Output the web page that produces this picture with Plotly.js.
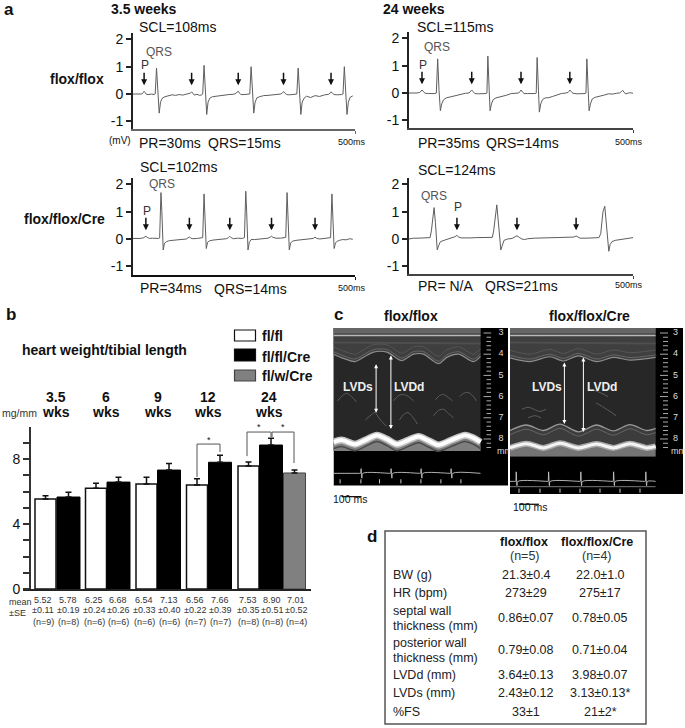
<!DOCTYPE html>
<html><head><meta charset="utf-8">
<script src="https://cdn.plot.ly/plotly-3.0.1.min.js"></script>
<style>html,body{margin:0;padding:0;background:#fff}#c{width:685px;height:728px}</style>
</head><body><div id="c"></div>
<script>
// ---------- panel a: ECG traces, [ms, mV] ----------
const ecg1=[[0,0],[8,-.01],[15,0],[20,0],[23,.05],[25,.1],[27,.06],[30,-.01],[36,-.02],[42,0],[48,-.02],[50,0],[53,.95],[56,.1],[59,-.7],[62,-.3],[66,-.15],[72,-.1],[80,-.06],[88,-.03],[96,-.05],[104,-.02],[112,-.04],[120,-.01],[126,0],[129,.03],[132,.08],[135,.02],[138,-.04],[144,-.01],[150,-.05],[155,-.03],[157,0],[160,1.05],[163,.1],[166,-.75],[169,-.3],[173,-.15],[179,-.1],[186,-.08],[196,-.05],[206,-.04],[216,-.02],[226,-.01],[232,.02],[235,.08],[237,.1],[240,.03],[243,-.02],[250,-.02],[257,-.01],[263,0],[266,1],[269,.1],[272,-.7],[275,-.3],[279,-.14],[285,-.1],[294,-.06],[304,-.05],[314,-.04],[324,-.02],[333,0],[337,.05],[339,.09],[342,.03],[346,-.02],[353,-.03],[361,-.02],[367,-.02],[369,0],[372,.95],[375,.1],[378,-.75],[381,-.3],[385,-.16],[391,-.08],[400,-.13],[410,-.06],[420,-.09],[432,-.03],[441,-.01],[444,.04],[446,.08],[449,.03],[453,-.02],[460,-.03],[467,-.03],[470,-.02],[473,0],[476,1],[479,.1],[482,-.75],[485,-.3],[489,-.12],[495,-.07]];
const ecg2=[[0,0],[10,-.01],[18,0],[24,.02],[27,.07],[29,.11],[32,.05],[36,-.01],[44,-.02],[52,-.03],[58,-.02],[61,0],[64,1.25],[67,.1],[70,-.65],[73,-.4],[77,-.25],[83,-.18],[90,-.15],[98,-.12],[106,-.07],[116,-.03],[126,-.01],[134,0],[137,.06],[140,.11],[143,.05],[147,-.02],[155,-.03],[165,-.03],[172,-.02],[174,0],[176,1.35],[179,.1],[181,-.65],[184,-.4],[188,-.24],[194,-.18],[202,-.15],[210,-.12],[218,-.08],[228,-.02],[238,0],[245,0],[248,.06],[250,.11],[253,.04],[257,-.02],[265,-.02],[275,-.03],[283,-.02],[284,0],[286,1.3],[289,.1],[291,-.7],[294,-.4],[298,-.24],[304,-.18],[312,-.17],[320,-.13],[330,-.08],[340,-.02],[350,0],[355,.02],[357,.06],[359,.11],[362,.05],[366,-.01],[375,-.03],[385,-.03],[393,-.02],[395,0],[397,1.25],[400,.1],[402,-.65],[405,-.4],[409,-.22],[415,-.16],[425,-.13],[435,-.08],[445,-.03],[455,-.04],[463,-.01],[470,0],[474,.05],[477,.1],[480,.02],[484,-.03],[490,0],[494,.01],[500,-.01]];
const ecg3=[[0,.02],[8,.01],[16,.02],[23,.04],[27,.08],[29,.1],[32,.06],[37,.02],[44,.03],[52,.01],[58,.02],[60,.04],[63,1.7],[65,1],[68,-.4],[71,-.15],[75,-.1],[82,-.06],[92,-.04],[102,-.02],[112,-.02],[120,0],[124,.04],[127,.08],[130,.03],[135,.01],[145,.02],[153,.03],[157,.05],[160,1.65],[162,1],[165,-.35],[168,-.12],[172,-.07],[180,-.04],[190,-.03],[200,-.01],[210,.01],[215,.05],[218,.1],[221,.05],[226,.01],[236,.03],[246,.02],[251,.05],[254,1.75],[256,1],[259,-.4],[262,-.12],[266,-.02],[274,-.02],[284,0],[294,.01],[304,.03],[309,.07],[312,.1],[315,.06],[322,.03],[332,.03],[340,.05],[344,.06],[347,1.7],[349,1],[352,-.4],[355,-.15],[359,-.08],[367,-.05],[377,-.03],[387,-.02],[397,0],[406,.02],[410,.07],[413,.03],[420,0],[432,.02],[441,.02],[445,.05],[448,1.65],[450,1],[453,-.35],[456,-.15],[460,-.08],[465,-.05],[472,-.02],[480,-.03],[488,.01],[495,-.01]];
const ecg4=[[0,0],[10,.03],[20,.03],[30,.04],[40,.03],[47,.05],[50,.3],[56,1.15],[59,.6],[62,-.2],[63,-.4],[66,-.25],[70,-.1],[78,-.05],[88,0],[96,.04],[102,.08],[107,.13],[111,.07],[116,.04],[126,.03],[138,.04],[150,.05],[165,.05],[180,.06],[186,.06],[189,.3],[193,1],[196,1.25],[199,.7],[203,-.2],[205,-.4],[208,-.25],[212,-.05],[220,0],[230,.02],[236,.07],[241,.12],[246,.06],[252,0],[258,-.02],[265,.01],[280,.03],[300,.04],[320,.05],[340,.05],[360,.06],[368,.07],[373,.11],[377,.06],[382,.03],[395,.03],[410,.04],[424,.05],[428,.2],[433,1],[437,1.2],[440,.7],[444,-.2],[446,-.45],[449,-.2],[453,-.1],[460,-.05],[470,-.03],[480,0],[490,.02],[500,.05]];
const pWave1=[25,132,237,339,446], pWave2=[29,140,250,359], pWave3=[29,127,218,312,410], pWave4=[107,241,373];

// ---------- panel b: heart weight / tibial length ----------
const flX=[45.5,96,146.5,197,248.5], flVal=[5.54,6.2,6.46,6.4,7.57], flErr=[.2,.31,.41,.39,.25];
const creX=[68.5,118.5,169,220,271], creVal=[5.66,6.58,7.32,7.8,8.86], creErr=[.29,.29,.41,.43,.41];
const wX=[294.5], wVal=[7.14], wErr=[.18];
const ageX=[56,106,158,208,269], ageLabels=['3.5','6','9','12','24'];
const statX=[43,68,94,118,144,169,195,220,248,272,296];
const statMean=['5.52','5.78','6.25','6.68','6.54','7.13','6.56','7.66','7.53','8.90','7.01'];
const statSE=['±0.11','±0.19','±0.24','±0.26','±0.33','±0.40','±0.22','±0.39','±0.35','±0.51','±0.52'];
const statN=['(n=9)','(n=8)','(n=6)','(n=6)','(n=6)','(n=6)','(n=7)','(n=7)','(n=8)','(n=8)','(n=4)'];

// ---------- panel c: M-mode outlines, ms / mm ----------
const lAntX=[0,50,108,158,200,267,342,400,450,525,567,625,700,735];
const lAntY=[4,4.2,4.35,4.1,3.9,3.9,4.3,4,4,4.45,4.15,4,4.35,4.1];
const lPostX=[0,40,108,160,217,265,317,375,425,475,525,590,658,700,735];
const lPostY=[8.05,7.95,8.15,7.95,7.72,7.9,8.15,7.95,7.78,7.98,8.18,7.95,7.72,7.85,8.05];
const lValveX=[20,45,66,90,115,null,300,325,350,375,400,null,510,530,550,575,595,null,630,650,672,695,715,null,160,190,208,230,265,null,330,350,372,395,420,null,500,525,550,575,600];
const lValveY=[6.2,5.95,5.85,6,6.25,null,6.2,5.95,5.9,6,6.2,null,6.15,5.95,5.9,6.05,6.2,null,6,5.85,5.8,5.95,6.2,null,7.1,6.85,6.75,7.05,7.4,null,7.1,6.85,6.75,6.95,7.3,null,6.9,6.65,6.6,6.8,7];
const lStripX=[0,130,135,138,142,146,280,285,288,292,296,430,435,438,442,446,580,585,588,592,596,735];
const lStripY=[9.62,9.62,9.62,9.4,9.85,9.62,9.62,9.62,9.4,9.85,9.62,9.62,9.62,9.4,9.85,9.62,9.62,9.62,9.4,9.85,9.62,9.62];
const lTicks=[33,137,230,337,437,537,637];
const rAntX=[0,100,200,267,342,433,517,600,728];
const rAntY=[4.17,4.35,4.12,4.32,4.08,4.35,4.15,4.28,4.15];
const rPostX=[0,83,167,250,342,433,517,600,683,728];
const rPostY=[7.6,7.34,7.6,7.3,7.66,7.34,7.62,7.32,7.6,7.5];
const rBandY=[8.42,8.22,8.42,8.2,8.42,8.24,8.42,8.22,8.42,8.35];
const rValveX=[60,90,120,150,180,null,430,450,475,500,530,null,90,125,155,null,420,460,490];
const rValveY=[6.6,6.5,6.6,6.7,6.6,null,6.3,6.4,6.55,6.7,6.9,null,7,6.9,7,null,5.7,5.85,6];
const rStripX=[0,24,28,31,35,39,186,190,193,197,201,347,351,354,358,362,511,515,518,522,526,672,676,679,683,687,728];
const rStripY=[10,10,10,9.55,10.2,10,10,10,9.55,10.2,10,10,10,9.55,10.2,10,10,10,9.55,10.2,10,10,10,9.55,10.2,10,10];
const rTicks=[45,150,250,350,450,550,650];
const mmLabels=[3,4,5,6,7,8];

// ---------- panel d: table ----------
const rowNames=['BW (g)','HR (bpm)','septal wall<br>thickness (mm)','posterior wall<br>thickness (mm)','LVDd (mm)','LVDs (mm)','%FS'];
const floxCol=['21.3±0.4','273±29','0.86±0.07','0.79±0.08','3.64±0.13','2.43±0.12','33±1'];
const creCol=['22.0±1.0','275±17','0.78±0.05','0.71±0.04','3.98±0.07','3.13±0.13*','21±2*'];

// ---------- helpers ----------
const FONT='"Liberation Sans", Arial, sans-serif';
const W=685,H=728;
const px=x=>x/W, py=y=>1-y/H;
const domX=(a,b)=>[px(a),px(b)], domY=(top,bot)=>[py(bot),py(top)];
const annotations=[], shapes=[], traces=[];
function T(text,x,y,o={}){
  annotations.push({text:o.b?'<b>'+text+'</b>':text,x:o.xref?x:px(x),y:py(y),xref:o.xref||'paper',yref:'paper',
    xanchor:o.a||'left',yanchor:'middle',showarrow:false,borderpad:0,align:o.align||'left',
    font:{family:FONT,size:o.s||14,color:o.c||'#111'}});
}
const layout={width:W,height:H,margin:{l:0,r:0,t:0,b:0,pad:0},paper_bgcolor:'#fff',plot_bgcolor:'rgba(0,0,0,0)',
  showlegend:false,font:{family:FONT,color:'#111'},annotations,shapes};

// ---------- ECG panels ----------
function ecgPanel(n,data,waves,left,right,top,zero,bottom,lineCol){
  const ax=n===1?'':n;
  const s=27.3;
  traces.push({type:'scatter',mode:'lines',x:data.map(d=>d[0]),y:data.map(d=>d[1]),xaxis:'x'+ax,yaxis:'y'+ax,
    line:{color:'#5e5e5e',width:1},hoverinfo:'skip'});
  layout['xaxis'+ax]={domain:domX(left,right),range:[0,500],anchor:'y'+ax,showgrid:false,zeroline:false,showticklabels:false,
    showline:true,linecolor:lineCol,linewidth:2,ticks:'outside',ticklen:3,tickwidth:1,tickcolor:lineCol,tickvals:[500]};
  layout['yaxis'+ax]={domain:domY(top,bottom),range:[(zero-bottom)/s,(zero-top)/s],anchor:'x'+ax,showgrid:false,zeroline:false,
    showline:true,linecolor:'#222',linewidth:2,ticks:'outside',ticklen:5,tickwidth:1.5,tickcolor:'#222',
    tickvals:[-1,0,1,2],ticktext:['-1','0','1','2'],tickfont:{family:FONT,size:14,color:'#111'}};
  waves.forEach(t=>annotations.push({x:t,y:.32,xref:'x'+ax,yref:'y'+ax,text:'',showarrow:true,ax:0,ay:-14,
    arrowhead:2,arrowsize:.8,arrowwidth:1.5,arrowcolor:'#111'}));
}
ecgPanel(1,ecg1,pWave1,133,355,33,94,129,'#666');
ecgPanel(2,ecg2,pWave2,409,633,32,93,128,'#444');
ecgPanel(3,ecg3,pWave3,133,355,178,239,275,'#111');
ecgPanel(4,ecg4,pWave4,409,633,178,239,274,'#444');

T('a',3,10,{b:1,s:17});
T('3.5 weeks',110,9,{b:1}); T('24 weeks',382,9,{b:1});
T('SCL=108ms',138,27); T('SCL=115ms',416,27); T('SCL=102ms',138.5,167); T('SCL=124ms',417,170);
T('flox/flox',105,79,{b:1,a:'right'}); T('flox/flox/Cre',106,219,{b:1,a:'right'});
[['QRS',159,52],['QRS',437,47],['QRS',162,184],['QRS',434,196]].forEach(q=>T(q[0],q[1],q[2],{a:'center',s:12,c:'#555'}));
[['P',145,65],['P',423,65],['P',147,211],['P',458,207]].forEach(q=>T(q[0],q[1],q[2],{a:'center',s:12,c:'#333'}));
T('(mV)',120,141,{a:'center',s:10});
T('PR=30ms',138,143); T('QRS=15ms',207,143);
T('PR=35ms',417,143); T('QRS=14ms',485,143);
T('PR=34ms',138.5,288); T('QRS=14ms',213,289);
T('PR= N/A',417,286); T('QRS=21ms',484,286);
[[352,142],[629,142],[352,288],[629,285]].forEach(q=>T('500ms',q[0],q[1],{a:'center',s:9}));

// ---------- bar panel ----------
const errY=e=>({type:'data',symmetric:false,array:e,arrayminus:e.map(()=>0),color:'#111',thickness:1.5,width:3,visible:true});
const barLine={color:'#111',width:1.5};
traces.push({type:'bar',name:'fl/fl',x:flX,y:flVal,width:flX.map(()=>21),xaxis:'x5',yaxis:'y5',marker:{color:'#fff',line:barLine},error_y:errY(flErr),hoverinfo:'skip'});
traces.push({type:'bar',name:'fl/fl/Cre',x:creX,y:creVal,width:creX.map(()=>23),xaxis:'x5',yaxis:'y5',marker:{color:'#000',line:{color:'#000',width:1}},error_y:errY(creErr),hoverinfo:'skip'});
traces.push({type:'bar',name:'fl/w/Cre',x:wX,y:wVal,width:wX.map(()=>22),xaxis:'x5',yaxis:'y5',marker:{color:'#808080',line:{color:'#444',width:1}},error_y:errY(wErr),hoverinfo:'skip'});
layout.barmode='overlay';
traces.push({type:'scatter',mode:'lines',xaxis:'x5',yaxis:'y5',hoverinfo:'skip',line:{color:'#555',width:1},
  x:[197,197,220,220,null,247,247,271,271,null,272,272,294,294],
  y:[6.89,8.92,8.92,8.43,null,8.18,9.66,9.66,9.35,null,9.35,9.66,9.66,7.75]});
layout.xaxis5={domain:domX(23,311),range:[23,311],anchor:'y5',showgrid:false,zeroline:false,showticklabels:false,ticks:'',
  showline:true,linecolor:'#222',linewidth:2};
layout.yaxis5={domain:domY(427,589),range:[0,9.97],anchor:'free',position:px(30),showgrid:false,zeroline:false,
  showline:true,linecolor:'#333',linewidth:2,ticks:'outside',ticklen:6,tickwidth:1.5,tickcolor:'#333',
  tickvals:[0,1,2,3,4,5,6,7,8,9],ticktext:['0','','','','4','','','','8',''],tickfont:{family:FONT,size:14,color:'#111'}};
T('b',5,314,{b:1,s:17});
T('heart weight/tibial length',20.5,350,{b:1});
T('mg/mm',19,413,{a:'center',s:10.5,c:'#333'});
ageLabels.forEach((a,i)=>{T(a,ageX[i],397,{b:1,a:'center'});T('wks',ageX[i],412,{b:1,a:'center'});});
[[208.5,440],[259,426.5],[283,426.5]].forEach(q=>T('*',q[0],q[1],{a:'center',s:9}));
statX.forEach((x,i)=>{
  T(statMean[i],x,599.5,{a:'center',s:9,c:'#333'});
  T(statSE[i],x,610,{a:'center',s:9,c:'#333'});
  T(statN[i],x,622,{a:'center',s:9,c:'#333'});
});
T('mean',20,602,{a:'center',s:9,c:'#333'}); T('±SE',17,612.5,{a:'center',s:9,c:'#333'});
[[330,341,'#fff'],[349,361,'#000'],[370,381,'#808080']].forEach(r=>shapes.push({type:'rect',xref:'paper',yref:'paper',x0:px(234.5),x1:px(255.5),y0:py(r[1]),y1:py(r[0]),fillcolor:r[2],line:{color:r[2]==='#808080'?'#444':'#111',width:1.2}}));
T('fl/fl',261,336,{b:1}); T('fl/fl/Cre',261,357,{b:1}); T('fl/w/Cre',261,376,{b:1});

// ---------- M-mode panels ----------
function fillT(ax,x,y,color){traces.push({type:'scatter',mode:'lines',x,y,fill:'toself',fillcolor:color,line:{width:0,color},xaxis:'x'+ax,yaxis:'y'+ax,hoverinfo:'skip'});}
function lineT(ax,x,y,color,w){traces.push({type:'scatter',mode:'lines',x,y,connectgaps:false,line:{color,width:w,shape:'spline',smoothing:.8},xaxis:'x'+ax,yaxis:'y'+ax,hoverinfo:'skip'});}
const shift=(a,d)=>a.map(v=>v===null?null:v+d);
function rev(a){return a.slice().reverse();}
function mmode(ax,o){
  fillT(ax,[0,o.fullW,o.fullW,0],[2.76,2.76,o.blackEnd,o.blackEnd],'#000');
  fillT(ax,[0,o.imgW,o.imgW,0],[2.76,2.76,o.imgEnd,o.imgEnd],'#272727');
  fillT(ax,[0].concat(o.antX,[o.imgW]),[2.76].concat(o.antY,[2.76]),'#3f3f3f');
  fillT(ax,[0,o.imgW,o.imgW,0],[2.76,2.76,3.02,3.02],'#666');
  const rx=[],ry=[];
  for(let m=0;m<=27;m++){const v=3+m*.2;const major=m%5===0;rx.push(major?o.rul0:o.rul0+15,o.rul1,null);ry.push(v,v,null);}
  traces.push({type:'scatter',mode:'lines',x:rx,y:ry,line:{color:'#aaa',width:1},xaxis:'x'+ax,yaxis:'y'+ax,hoverinfo:'skip'});
  traces.push({type:'scatter',mode:'text',x:mmLabels.map(()=>o.numX),y:mmLabels,text:mmLabels.map(String),cliponaxis:false,
    textfont:{family:FONT,size:9,color:'#ddd'},xaxis:'x'+ax,yaxis:'y'+ax,hoverinfo:'skip'});
  traces.push({type:'scatter',mode:'text',x:[o.mmX],y:[8.61],text:['mm'],cliponaxis:false,
    textfont:{family:FONT,size:9,color:'#ddd'},xaxis:'x'+ax,yaxis:'y'+ax,hoverinfo:'skip'});
  lineT(ax,[0,o.imgW],[3.12,3.12],'#b8b8b8',1.5);
  lineT(ax,[0,o.imgW],[3.45,3.5],'#4e4e4e',2);
  lineT(ax,o.antX,shift(o.antY,-.35),'#555',1);
  lineT(ax,o.antX,shift(o.antY,-.12),'#666',1);
  lineT(ax,o.antX,o.antY,'#8c8c8c',1.2);
  lineT(ax,o.valveX,o.valveY,'#5c5c5c',1);
  lineT(ax,o.stripX,o.stripY,'#ddd',.8);
  traces.push({type:'scatter',mode:'markers',x:o.ticks,y:o.ticks.map(()=>o.tickY),marker:{symbol:'line-ns',size:3,line:{color:'#ccc',width:1}},xaxis:'x'+ax,yaxis:'y'+ax,hoverinfo:'skip'});
  traces.push({type:'scatter',mode:'lines',x:[o.barX,o.barX+100],y:[o.barY,o.barY],line:{color:'#111',width:1.3},xaxis:'x'+ax,yaxis:'y'+ax,hoverinfo:'skip'});
  layout['xaxis'+ax]={domain:domX(o.l,o.r),range:[0,o.xMax],anchor:'y'+ax,visible:false};
  layout['yaxis'+ax]={domain:domY(328,510),range:[11.35,2.764],anchor:'x'+ax,visible:false};
  const arrow=(x,y0,y1)=>annotations.push({x,y:y1,ax:x,ay:y0,xref:'x'+ax,yref:'y'+ax,axref:'x'+ax,ayref:'y'+ax,text:'',showarrow:true,arrowside:'end+start',arrowhead:2,arrowsize:.8,arrowwidth:1,arrowcolor:'#fff'});
  arrow(o.sX,o.s0,o.s1); arrow(o.dX,o.d0,o.d1);
  T('LVDs',o.sT,387,{b:1,s:12,a:'center',c:'#eee'}); T('LVDd',o.dT,387,{b:1,s:12,a:'center',c:'#eee'});
}
const lB={fullW:872.5,blackEnd:10.2,imgW:735,imgEnd:8.57,antX:lAntX,antY:lAntY,rul0:750,rul1:788,numX:837,mmX:855,
  valveX:lValveX,valveY:lValveY,stripX:lStripX,stripY:lStripY,ticks:lTicks,tickY:10,barX:40,barY:10.72,l:333.5,r:508,xMax:872.5,
  sX:213,s0:4.4,s1:6.76,dX:287,d0:3.99,d1:7.53,sT:358,dT:409};
mmode(6,lB);
fillT(6,lPostX.concat([735,0]),lPostY.concat([8.57,8.57]),'#7e7e7e');
lineT(6,lPostX,shift(lPostY,.4),'#4a4a4a',1.5);
lineT(6,lPostX,shift(lPostY,.1),'#c4c4c4',7);
lineT(6,lPostX,shift(lPostY,.1),'#ffffff',4);
const rB={fullW:865,blackEnd:10.6,imgW:728,imgEnd:8.83,antX:rAntX,antY:rAntY,rul0:750,rul1:790,numX:828,mmX:842,
  valveX:rValveX,valveY:rValveY,stripX:rStripX,stripY:rStripY,ticks:rTicks,tickY:10.44,barX:45,barY:11.08,l:510,r:683,xMax:865,
  sX:272,s0:4.32,s1:7.29,dX:367,d0:4.08,d1:7.67,sT:547,dT:602};
mmode(7,rB);
fillT(7,rPostX.concat(rev(rPostX)),rPostY.concat(rev(rBandY)),'#3c3c3c');
fillT(7,rPostX.concat([728,0]),rBandY.concat([8.83,8.83]),'#747474');
lineT(7,rPostX,rPostY,'#999',1.3);
lineT(7,rPostX,shift(rPostY,.2),'#666',1);
lineT(7,rPostX,rBandY,'#aaaaaa',6);
lineT(7,rPostX,rBandY,'#f4f4f4',3);
lineT(7,[0,728],[10.25,10.25],'#999',.8);
T('c',333,314,{b:1,s:17});
T('flox/flox',411,316,{b:1,a:'center'}); T('flox/flox/Cre',589,316,{b:1,a:'center'});
T('100 ms',350,499,{a:'center',s:10.5}); T('100 ms',530,507,{a:'center',s:10.5});

// ---------- table ----------
shapes.push({type:'rect',xref:'paper',yref:'paper',x0:px(385),x1:px(646),y0:py(724),y1:py(531),line:{color:'#555',width:1.5},fillcolor:'rgba(0,0,0,0)'});
T('d',366,536,{b:1,s:17});
T('flox/flox',524,542,{b:1,a:'center',s:12.5}); T('flox/flox/Cre',597,542,{b:1,a:'center',s:12.5});
T('(n=5)',525,556,{a:'center',s:12.5,c:'#333'}); T('(n=4)',597,556,{a:'center',s:12.5,c:'#333'});
const rowY=[575,593,618,650,675,693,712];
rowNames.forEach((n,i)=>{
  if(n.includes('<br>')){const p=n.split('<br>');T(p[0],392,rowY[i]-7.5,{s:12.5,c:'#222'});T(p[1],392,rowY[i]+7.5,{s:12.5,c:'#222'});}
  else T(n,392,rowY[i],{s:12.5,c:'#222'});
  T(floxCol[i],526,rowY[i],{a:'center',s:12.5,c:'#222'});
  T(creCol[i],600,rowY[i],{a:'center',s:12.5,c:'#222'});
});

Plotly.newPlot('c',traces,layout,{displayModeBar:false,responsive:false});
</script></body></html>
